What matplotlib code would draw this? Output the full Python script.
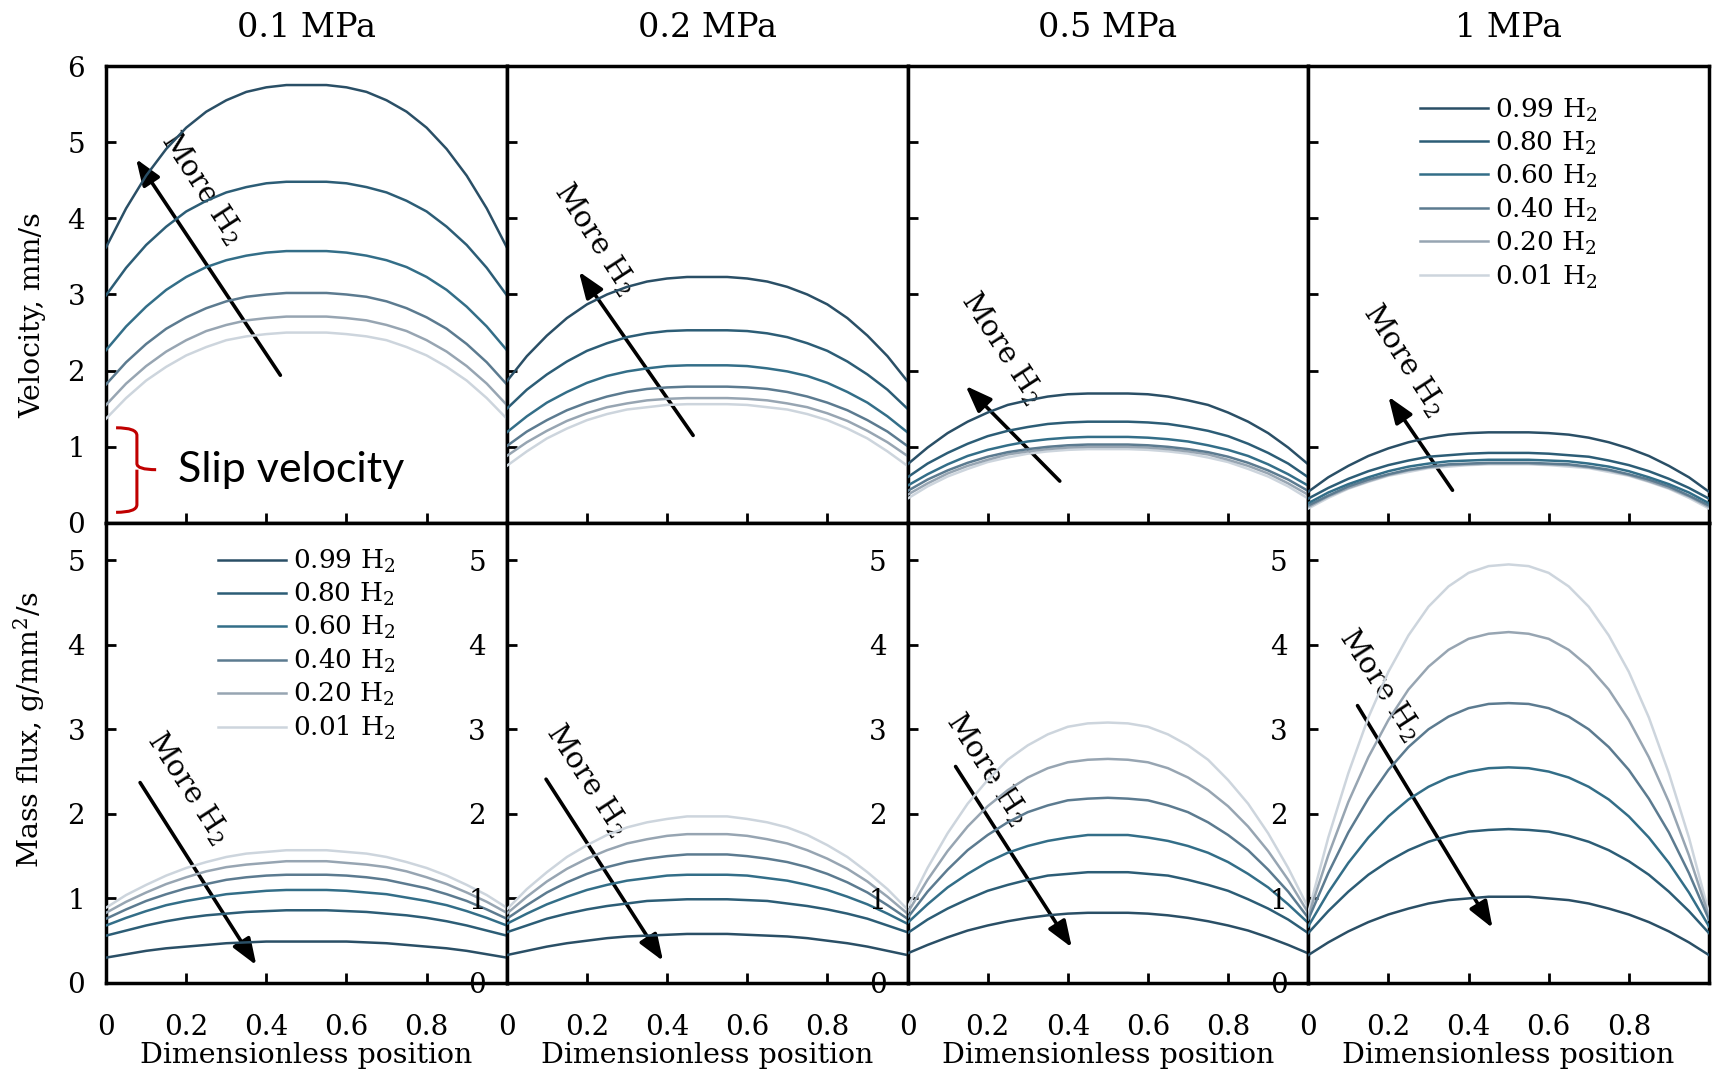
import matplotlib.pyplot as plt
from matplotlib.path import Path
from matplotlib.patches import PathPatch

plt.rcParams['font.family'] = ['DejaVu Serif']
plt.rcParams['mathtext.fontset'] = 'dejavuserif'

# dimensionless position across the channel
position = [0.0, 0.05, 0.1, 0.15, 0.2, 0.25, 0.3, 0.35, 0.4, 0.45, 0.5,
            0.55, 0.6, 0.65, 0.7, 0.75, 0.8, 0.85, 0.9, 0.95, 1.0]

pressures = ['0.1 MPa', '0.2 MPa', '0.5 MPa', '1 MPa']
h2_fractions = ['0.99', '0.80', '0.60', '0.40', '0.20', '0.01']
line_colors = ['#2a4f66', '#2c5d76', '#336e88', '#5c7b90', '#97a5b2', '#cdd5dd']

# velocity, mm/s (one row per H2 fraction, same order as h2_fractions)
vel_0p1 = [
    [3.62, 4.13, 4.56, 4.91, 5.19, 5.40, 5.55, 5.66, 5.72, 5.75, 5.75, 5.75, 5.72, 5.66, 5.55, 5.40, 5.19, 4.91, 4.56, 4.13, 3.62],
    [2.99, 3.35, 3.65, 3.89, 4.09, 4.23, 4.34, 4.41, 4.46, 4.48, 4.48, 4.48, 4.46, 4.41, 4.34, 4.23, 4.09, 3.89, 3.65, 3.35, 2.99],
    [2.27, 2.58, 2.84, 3.06, 3.23, 3.36, 3.45, 3.51, 3.55, 3.57, 3.57, 3.57, 3.55, 3.51, 3.45, 3.36, 3.23, 3.06, 2.84, 2.58, 2.27],
    [1.82, 2.11, 2.35, 2.55, 2.70, 2.82, 2.91, 2.97, 3.00, 3.02, 3.02, 3.02, 3.00, 2.97, 2.91, 2.82, 2.70, 2.55, 2.35, 2.11, 1.82],
    [1.55, 1.83, 2.06, 2.25, 2.40, 2.52, 2.60, 2.66, 2.69, 2.71, 2.71, 2.71, 2.69, 2.66, 2.60, 2.52, 2.40, 2.25, 2.06, 1.83, 1.55],
    [1.37, 1.64, 1.87, 2.05, 2.20, 2.31, 2.40, 2.45, 2.48, 2.50, 2.50, 2.50, 2.48, 2.45, 2.40, 2.31, 2.20, 2.05, 1.87, 1.64, 1.37],
]
vel_0p2 = [
    [1.86, 2.19, 2.46, 2.69, 2.87, 3.00, 3.10, 3.17, 3.21, 3.23, 3.23, 3.23, 3.21, 3.17, 3.10, 3.00, 2.87, 2.69, 2.46, 2.19, 1.86],
    [1.50, 1.75, 1.95, 2.12, 2.26, 2.36, 2.44, 2.49, 2.52, 2.53, 2.53, 2.53, 2.52, 2.49, 2.44, 2.36, 2.26, 2.12, 1.95, 1.75, 1.50],
    [1.19, 1.40, 1.58, 1.72, 1.84, 1.93, 1.99, 2.03, 2.06, 2.07, 2.07, 2.07, 2.06, 2.03, 1.99, 1.93, 1.84, 1.72, 1.58, 1.40, 1.19],
    [1.01, 1.20, 1.35, 1.48, 1.58, 1.66, 1.72, 1.76, 1.78, 1.79, 1.79, 1.79, 1.78, 1.76, 1.72, 1.66, 1.58, 1.48, 1.35, 1.20, 1.01],
    [0.88, 1.06, 1.21, 1.34, 1.44, 1.52, 1.57, 1.61, 1.63, 1.64, 1.64, 1.64, 1.63, 1.61, 1.57, 1.52, 1.44, 1.34, 1.21, 1.06, 0.88],
    [0.75, 0.94, 1.11, 1.24, 1.35, 1.43, 1.49, 1.52, 1.55, 1.56, 1.56, 1.56, 1.55, 1.52, 1.49, 1.43, 1.35, 1.24, 1.11, 0.94, 0.75],
]
vel_0p5 = [
    [0.77, 0.99, 1.18, 1.33, 1.45, 1.55, 1.61, 1.66, 1.69, 1.70, 1.70, 1.70, 1.69, 1.66, 1.61, 1.55, 1.45, 1.33, 1.18, 0.99, 0.77],
    [0.60, 0.78, 0.92, 1.04, 1.14, 1.21, 1.26, 1.30, 1.32, 1.33, 1.33, 1.33, 1.32, 1.30, 1.26, 1.21, 1.14, 1.04, 0.92, 0.78, 0.60],
    [0.49, 0.64, 0.77, 0.88, 0.96, 1.02, 1.07, 1.10, 1.12, 1.13, 1.13, 1.13, 1.12, 1.10, 1.07, 1.02, 0.96, 0.88, 0.77, 0.64, 0.49],
    [0.42, 0.57, 0.69, 0.79, 0.87, 0.93, 0.97, 1.00, 1.02, 1.03, 1.03, 1.03, 1.02, 1.00, 0.97, 0.93, 0.87, 0.79, 0.69, 0.57, 0.42],
    [0.37, 0.52, 0.65, 0.75, 0.83, 0.90, 0.94, 0.97, 0.99, 1.00, 1.00, 1.00, 0.99, 0.97, 0.94, 0.90, 0.83, 0.75, 0.65, 0.52, 0.37],
    [0.32, 0.48, 0.61, 0.71, 0.80, 0.86, 0.91, 0.94, 0.96, 0.97, 0.97, 0.97, 0.96, 0.94, 0.91, 0.86, 0.80, 0.71, 0.61, 0.48, 0.32],
]
vel_1 = [
    [0.41, 0.60, 0.75, 0.88, 0.98, 1.06, 1.12, 1.16, 1.18, 1.19, 1.19, 1.19, 1.18, 1.16, 1.12, 1.06, 0.98, 0.88, 0.75, 0.60, 0.41],
    [0.32, 0.46, 0.58, 0.68, 0.76, 0.82, 0.87, 0.89, 0.91, 0.92, 0.92, 0.92, 0.91, 0.89, 0.87, 0.82, 0.76, 0.68, 0.58, 0.46, 0.32],
    [0.26, 0.40, 0.51, 0.60, 0.68, 0.74, 0.78, 0.81, 0.82, 0.83, 0.83, 0.83, 0.82, 0.81, 0.78, 0.74, 0.68, 0.60, 0.51, 0.40, 0.26],
    [0.23, 0.36, 0.48, 0.57, 0.64, 0.70, 0.74, 0.77, 0.78, 0.79, 0.79, 0.79, 0.78, 0.77, 0.74, 0.70, 0.64, 0.57, 0.48, 0.36, 0.23],
    [0.21, 0.35, 0.46, 0.55, 0.63, 0.69, 0.73, 0.76, 0.77, 0.78, 0.78, 0.78, 0.77, 0.76, 0.73, 0.69, 0.63, 0.55, 0.46, 0.35, 0.21],
    [0.19, 0.33, 0.45, 0.54, 0.62, 0.67, 0.72, 0.74, 0.76, 0.77, 0.77, 0.77, 0.76, 0.74, 0.72, 0.67, 0.62, 0.54, 0.45, 0.33, 0.19],
]

# mass flux, g/mm2/s
flux_0p1 = [
    [0.30, 0.34, 0.38, 0.41, 0.43, 0.45, 0.47, 0.48, 0.49, 0.49, 0.49, 0.49, 0.49, 0.48, 0.47, 0.45, 0.43, 0.41, 0.38, 0.34, 0.30],
    [0.56, 0.62, 0.68, 0.73, 0.77, 0.80, 0.82, 0.84, 0.85, 0.86, 0.86, 0.86, 0.85, 0.84, 0.82, 0.80, 0.77, 0.73, 0.68, 0.62, 0.56],
    [0.68, 0.77, 0.85, 0.92, 0.97, 1.01, 1.05, 1.07, 1.09, 1.10, 1.10, 1.10, 1.09, 1.07, 1.05, 1.01, 0.97, 0.92, 0.85, 0.77, 0.68],
    [0.76, 0.87, 0.97, 1.05, 1.12, 1.17, 1.22, 1.25, 1.27, 1.28, 1.28, 1.28, 1.27, 1.25, 1.22, 1.17, 1.12, 1.05, 0.97, 0.87, 0.76],
    [0.83, 0.96, 1.07, 1.17, 1.25, 1.32, 1.37, 1.40, 1.42, 1.44, 1.44, 1.44, 1.42, 1.40, 1.37, 1.32, 1.25, 1.17, 1.07, 0.96, 0.83],
    [0.89, 1.04, 1.16, 1.27, 1.36, 1.43, 1.49, 1.53, 1.55, 1.57, 1.57, 1.57, 1.55, 1.53, 1.49, 1.43, 1.36, 1.27, 1.16, 1.04, 0.89],
]
flux_0p2 = [
    [0.33, 0.38, 0.43, 0.47, 0.50, 0.53, 0.55, 0.56, 0.57, 0.58, 0.58, 0.58, 0.57, 0.56, 0.55, 0.53, 0.50, 0.47, 0.43, 0.38, 0.33],
    [0.60, 0.68, 0.76, 0.82, 0.87, 0.91, 0.94, 0.97, 0.98, 0.99, 0.99, 0.99, 0.98, 0.97, 0.94, 0.91, 0.87, 0.82, 0.76, 0.68, 0.60],
    [0.70, 0.82, 0.93, 1.02, 1.10, 1.16, 1.21, 1.24, 1.27, 1.28, 1.28, 1.28, 1.27, 1.24, 1.21, 1.16, 1.10, 1.02, 0.93, 0.82, 0.70],
    [0.76, 0.92, 1.07, 1.19, 1.29, 1.37, 1.43, 1.47, 1.50, 1.52, 1.52, 1.52, 1.50, 1.47, 1.43, 1.37, 1.29, 1.19, 1.07, 0.92, 0.76],
    [0.82, 1.02, 1.20, 1.35, 1.47, 1.57, 1.65, 1.70, 1.74, 1.76, 1.76, 1.76, 1.74, 1.70, 1.65, 1.57, 1.47, 1.35, 1.20, 1.02, 0.82],
    [0.87, 1.11, 1.31, 1.49, 1.63, 1.75, 1.84, 1.90, 1.94, 1.97, 1.97, 1.97, 1.94, 1.90, 1.84, 1.75, 1.63, 1.49, 1.31, 1.11, 0.87],
]
flux_0p5 = [
    [0.35, 0.45, 0.54, 0.62, 0.68, 0.73, 0.77, 0.80, 0.82, 0.83, 0.83, 0.83, 0.82, 0.80, 0.77, 0.73, 0.68, 0.62, 0.54, 0.45, 0.35],
    [0.59, 0.75, 0.88, 0.99, 1.09, 1.16, 1.22, 1.27, 1.29, 1.31, 1.31, 1.31, 1.29, 1.27, 1.22, 1.16, 1.09, 0.99, 0.88, 0.75, 0.59],
    [0.71, 0.93, 1.13, 1.29, 1.43, 1.54, 1.62, 1.68, 1.72, 1.75, 1.75, 1.75, 1.72, 1.68, 1.62, 1.54, 1.43, 1.29, 1.13, 0.93, 0.71],
    [0.77, 1.08, 1.34, 1.57, 1.75, 1.90, 2.02, 2.10, 2.16, 2.18, 2.19, 2.18, 2.16, 2.10, 2.02, 1.90, 1.75, 1.57, 1.34, 1.08, 0.77],
    [0.83, 1.22, 1.56, 1.85, 2.09, 2.28, 2.43, 2.54, 2.61, 2.64, 2.65, 2.64, 2.61, 2.54, 2.43, 2.28, 2.09, 1.85, 1.56, 1.22, 0.83],
    [0.89, 1.36, 1.77, 2.12, 2.40, 2.64, 2.81, 2.94, 3.03, 3.07, 3.08, 3.07, 3.03, 2.94, 2.81, 2.64, 2.40, 2.12, 1.77, 1.36, 0.89],
]
flux_1 = [
    [0.33, 0.48, 0.61, 0.72, 0.81, 0.88, 0.94, 0.98, 1.00, 1.02, 1.02, 1.02, 1.00, 0.98, 0.94, 0.88, 0.81, 0.72, 0.61, 0.48, 0.33],
    [0.59, 0.85, 1.08, 1.28, 1.44, 1.57, 1.67, 1.74, 1.79, 1.81, 1.82, 1.81, 1.79, 1.74, 1.67, 1.57, 1.44, 1.28, 1.08, 0.85, 0.59],
    [0.67, 1.07, 1.42, 1.72, 1.97, 2.17, 2.32, 2.43, 2.50, 2.54, 2.55, 2.54, 2.50, 2.43, 2.32, 2.17, 1.97, 1.72, 1.42, 1.07, 0.67],
    [0.75, 1.30, 1.78, 2.18, 2.52, 2.79, 3.00, 3.15, 3.25, 3.30, 3.31, 3.30, 3.25, 3.15, 3.00, 2.79, 2.52, 2.18, 1.78, 1.30, 0.75],
    [0.79, 1.51, 2.14, 2.67, 3.11, 3.47, 3.74, 3.94, 4.07, 4.13, 4.15, 4.13, 4.07, 3.94, 3.74, 3.47, 3.11, 2.67, 2.14, 1.51, 0.79],
    [0.83, 1.72, 2.48, 3.14, 3.68, 4.11, 4.45, 4.69, 4.85, 4.93, 4.95, 4.93, 4.85, 4.69, 4.45, 4.11, 3.68, 3.14, 2.48, 1.72, 0.83],
]

velocity = [vel_0p1, vel_0p2, vel_0p5, vel_1]
mass_flux = [flux_0p1, flux_0p2, flux_0p5, flux_1]

# "More H2" arrows: (tail, head, text centre) in data coords of each panel
vel_arrows = [((0.435, 1.94), (0.075, 4.78), (0.24, 4.40)),
              ((0.465, 1.15), (0.18, 3.30), (0.22, 3.73)),
              ((0.38, 0.55), (0.145, 1.80), (0.237, 2.30)),
              ((0.36, 0.43), (0.20, 1.66), (0.24, 2.14))]
flux_arrows = [((0.085, 2.37), (0.375, 0.21), (0.205, 2.31)),
               ((0.098, 2.41), (0.39, 0.26), (0.20, 2.40)),
               ((0.12, 2.56), (0.41, 0.42), (0.20, 2.54)),
               ((0.123, 3.28), (0.46, 0.65), (0.18, 3.53))]


def style_axes(ax):
    for spine in ax.spines.values():
        spine.set_linewidth(2.5)
    ax.tick_params(direction='in', length=7, width=2, labelsize=20)
    ax.tick_params(axis='y', pad=15)
    ax.tick_params(axis='x', pad=22)
    ax.set_xlim(0, 1)
    ax.set_xticks([0, 0.2, 0.4, 0.6, 0.8])
    ax.set_xticklabels(['0', '0.2', '0.4', '0.6', '0.8'])


def more_h2(ax, tail, head, text_xy):
    ax.annotate('', xy=head, xytext=tail,
                arrowprops=dict(arrowstyle='-|>,head_length=0.8,head_width=0.3',
                                mutation_scale=20, color='black', lw=2.6,
                                shrinkA=0, shrinkB=0))
    ax.text(text_xy[0], text_xy[1], r'More H$_2$', fontsize=21, rotation=-57,
            ha='center', va='center', rotation_mode='anchor')


def add_legend(ax, handles, y):
    ax.legend(handles=handles, loc='upper left', bbox_to_anchor=(0.265, y),
              frameon=False, fontsize=19, handlelength=2.6, handletextpad=0.25,
              labelspacing=0.22, borderaxespad=0, borderpad=0.2)


fig = plt.figure(figsize=(17.16, 10.75), dpi=100)
left, right = 0.0618, 0.9959
top, mid, bottom = 0.9386, 0.5135, 0.0856
w = (right - left) / 4

for i in range(4):
    ax_v = fig.add_axes([left + i * w, mid, w, top - mid])
    ax_m = fig.add_axes([left + i * w, bottom, w, mid - bottom])

    handles_v, handles_m = [], []
    for k in range(len(h2_fractions)):
        lab = h2_fractions[k] + r' H$_2$'
        lv, = ax_v.plot(position, velocity[i][k], color=line_colors[k], lw=1.8,
                        label=lab, zorder=10 - k)
        lm, = ax_m.plot(position, mass_flux[i][k], color=line_colors[k], lw=1.8,
                        label=lab, zorder=10 - k)
        handles_v.append(lv)
        handles_m.append(lm)

    style_axes(ax_v)
    ax_v.set_ylim(0, 6)
    ax_v.set_yticks(range(7))
    ax_v.tick_params(labelbottom=False, labelleft=(i == 0))
    ax_v.set_title(pressures[i], fontsize=24, pad=21)

    style_axes(ax_m)
    ax_m.set_ylim(0, 5.44)
    ax_m.set_yticks(range(6))
    ax_m.set_xlabel('Dimensionless position', fontsize=20.5)
    ax_m.xaxis.set_label_coords(0.5, -0.128)

    more_h2(ax_v, *vel_arrows[i])
    more_h2(ax_m, *flux_arrows[i])

    if i == 0:
        ax_v.set_ylabel('Velocity, mm/s', fontsize=20.5)
        ax_v.yaxis.set_label_coords(-0.15, 0.455)
        ax_m.set_ylabel(r'Mass flux, g/mm$^2$/s', fontsize=20.5)
        ax_m.yaxis.set_label_coords(-0.148, 0.552)
        add_legend(ax_m, handles_m, 0.957)

        # slip velocity brace
        brace = Path([(0.025, 1.25), (0.077, 1.25), (0.077, 1.15),
                      (0.077, 0.78), (0.077, 0.70), (0.125, 0.70),
                      (0.077, 0.70), (0.077, 0.62),
                      (0.077, 0.24), (0.077, 0.14), (0.025, 0.14)],
                     [Path.MOVETO, Path.CURVE3, Path.CURVE3,
                      Path.LINETO, Path.CURVE3, Path.CURVE3,
                      Path.MOVETO, Path.LINETO,
                      Path.LINETO, Path.CURVE3, Path.CURVE3])
        ax_v.add_patch(PathPatch(brace, fill=False, edgecolor='#c00000', lw=2.2,
                                 zorder=12))
        ax_v.text(0.18, 0.70, 'Slip velocity', fontsize=31, family=['Lato', 'DejaVu Sans'],
                  ha='left', va='center')

    if i == 3:
        add_legend(ax_v, handles_v, 0.945)

fig.savefig('out.png', dpi=100)
